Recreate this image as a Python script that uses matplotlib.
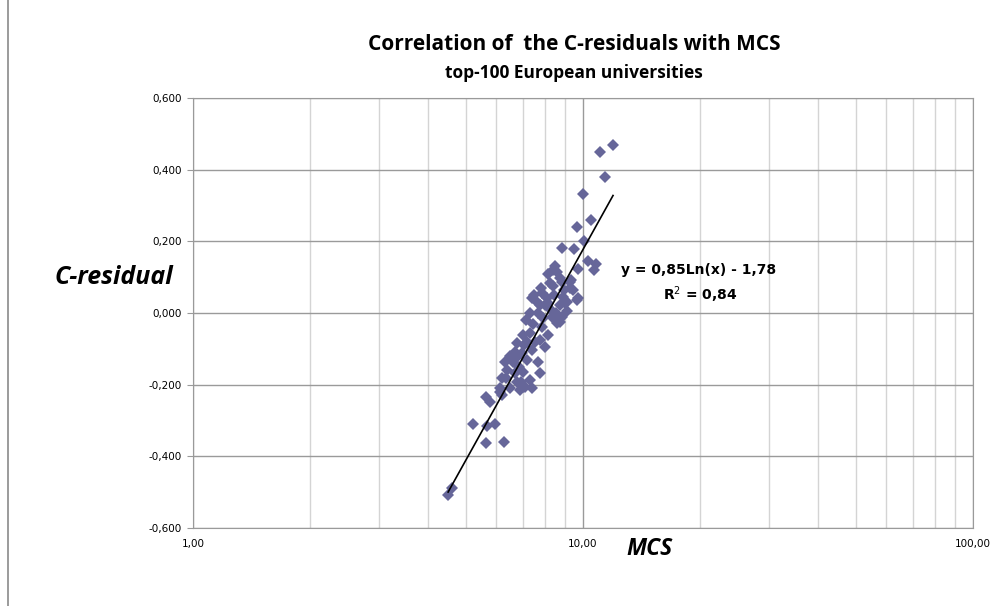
import numpy as np
import matplotlib
matplotlib.use("Agg")
import matplotlib.pyplot as plt
from matplotlib.ticker import FixedLocator, FuncFormatter, NullFormatter

# data (MCS, C-residual)
mcs = [11.94, 11.06, 11.39, 10.00, 10.48, 9.65, 10.06, 8.84, 9.48, 10.30,
       10.80, 10.67, 9.71, 8.48, 8.58, 8.38, 8.73, 9.26, 9.32, 8.84,
       7.80, 9.26, 9.43, 7.40, 8.09, 8.89, 9.71, 8.13, 7.76, 8.73,
       8.99, 7.62, 7.99, 9.10, 9.65, 7.31, 7.67, 8.33, 8.84, 8.73,
       8.58, 7.31, 7.02, 6.77, 7.19, 7.53, 8.13, 7.99, 6.69, 6.98,
       7.40, 6.31, 6.61, 7.19, 7.67, 6.38, 6.69, 7.02, 7.76, 7.31,
       6.77, 6.13, 7.02, 7.40, 6.95, 7.10, 6.90, 6.50, 6.13, 5.64,
       5.77, 6.20, 5.22, 5.67, 5.95, 5.64, 6.27, 4.61, 4.51,
       7.85, 8.25, 8.45, 7.45, 7.85, 7.05, 6.50, 6.85, 6.35, 8.25,
       8.55, 7.15, 6.80, 7.75, 8.15, 9.10, 6.20, 7.50, 8.40, 8.95, 7.90]
c_residual = [0.469, 0.449, 0.380, 0.332, 0.260, 0.240, 0.201, 0.181, 0.179, 0.145,
              0.137, 0.120, 0.123, 0.131, 0.114, 0.120, 0.098, 0.087, 0.092, 0.087,
              0.070, 0.070, 0.064, 0.042, 0.042, 0.045, 0.042, 0.028, 0.022, 0.022,
              0.028, 0.031, 0.022, 0.031, 0.036, 0.000, 0.000, -0.011, -0.011, -0.025,
              -0.028, -0.056, -0.061, -0.084, -0.081, -0.081, -0.061, -0.095, -0.109, -0.112,
              -0.103, -0.137, -0.137, -0.131, -0.137, -0.159, -0.167, -0.165, -0.167, -0.187,
              -0.193, -0.209, -0.206, -0.209, -0.193, -0.206, -0.215, -0.209, -0.220, -0.234,
              -0.248, -0.229, -0.310, -0.315, -0.310, -0.363, -0.360, -0.488, -0.508,
              0.055, 0.010, 0.050, -0.030, -0.040, -0.090, -0.120, -0.150, -0.180, 0.085,
              0.000, -0.020, -0.120, -0.075, 0.110, 0.005, -0.180, 0.050, 0.075, 0.065, -0.015]

slope, intercept = 0.85, -1.78
eq_text = "y = 0,85Ln(x) - 1,78"
r2_text = "R$^2$ = 0,84"

fig = plt.figure(figsize=(9.92, 6.06), dpi=100)
ax = fig.add_axes([193 / 992, 1 - 528 / 606, (973 - 193) / 992, (528 - 98) / 606])

ax.set_xscale("log")
ax.set_xlim(1, 100)
ax.set_ylim(-0.6, 0.6)

# grid like excel: dark major lines, light minor lines
ax.set_yticks(np.arange(-0.6, 0.61, 0.2))
ax.xaxis.set_major_locator(FixedLocator([1, 10, 100]))
ax.xaxis.set_minor_locator(FixedLocator([k * d for d in (1, 10) for k in range(2, 10)]))
ax.xaxis.set_minor_formatter(NullFormatter())
ax.grid(True, which="major", color="#9a9a9a", linewidth=1.0)
ax.grid(True, which="minor", axis="x", color="#d4d4d4", linewidth=1.0)
ax.set_axisbelow(True)
ax.yaxis.set_major_formatter(FuncFormatter(lambda v, p: f"{v:.3f}".replace(".", ",").replace("-0,000", "0,000")))
ax.xaxis.set_major_formatter(FuncFormatter(lambda v, p: f"{v:.2f}".replace(".", ",")))
ax.tick_params(axis="y", length=4, color="#9a9a9a", labelsize=7.5, pad=4)
ax.tick_params(axis="x", which="both", length=0, labelsize=7.5, pad=8)
for s in ax.spines.values():
    s.set_color("#9a9a9a")

ax.plot(mcs, c_residual, "D", color="#666699", markersize=6, markeredgewidth=0)

xs = np.linspace(min(mcs), max(mcs), 50)
ax.plot(xs, slope * np.log(xs) + intercept, color="black", linewidth=1.2)

fig.text(574 / 992, 1 - 44 / 606, "Correlation of  the C-residuals with MCS", ha="center", va="center",
         fontsize=15, fontweight="bold", family="Open Sans")
fig.text(574 / 992, 1 - 73 / 606, "top-100 European universities", ha="center", va="center",
         fontsize=12.5, fontweight="bold", family="Open Sans")
fig.text(114 / 992, 1 - 277 / 606, "C-residual", ha="center", va="center",
         fontsize=18, fontweight="bold", style="italic", family="Open Sans")
fig.text(650 / 992, 1 - 549 / 606, "MCS", ha="center", va="center",
         fontsize=16.5, fontweight="bold", style="italic", family="Open Sans")
fig.text(699 / 992, 1 - 270 / 606, eq_text, ha="center", va="center", fontsize=10, fontweight="bold")
fig.text(700 / 992, 1 - 295 / 606, r2_text, ha="center", va="center", fontsize=10, fontweight="bold")

fig.add_artist(plt.Line2D([8 / 992, 8 / 992], [0, 1], color="#8a8a8a", linewidth=1.2))

fig.savefig("out.png", dpi=100)
